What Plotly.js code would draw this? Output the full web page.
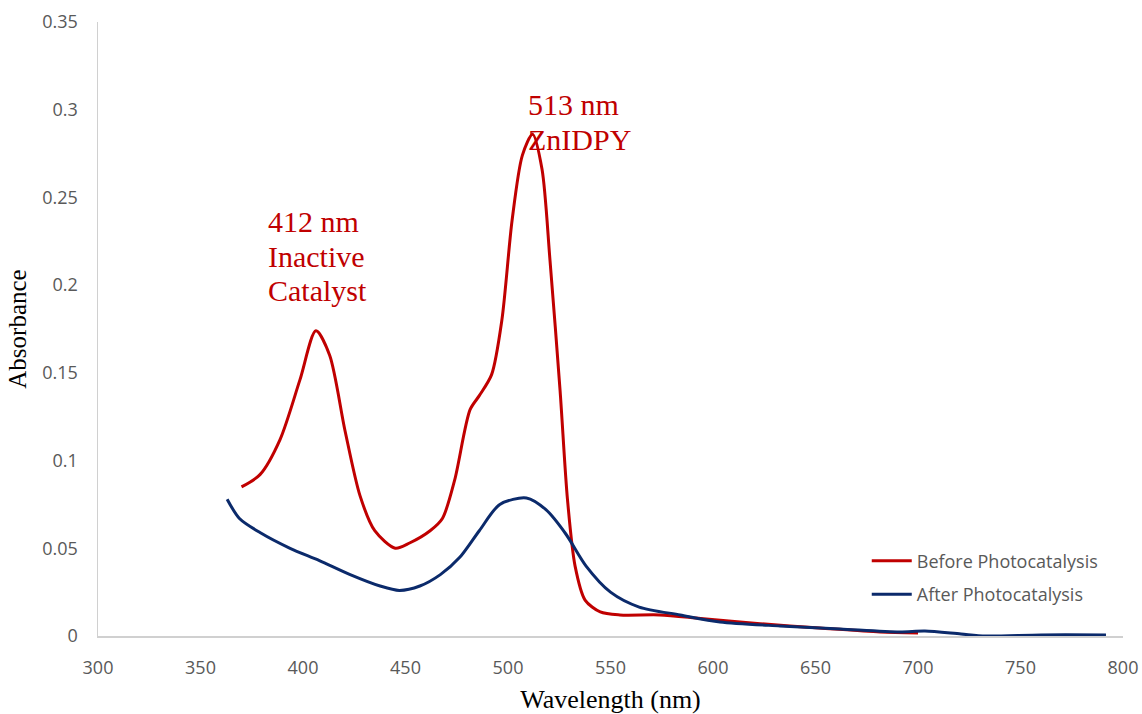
<!DOCTYPE html>
<html>
<head>
<meta charset="utf-8">
<script src="https://cdn.plot.ly/plotly-3.0.1.min.js"></script>
<style>html,body{margin:0;padding:0;background:#fff;}#chart{width:1142px;height:714px;}</style>
</head>
<body>
<div id="chart"></div>
<script>
// Before Photocatalysis (red)
const beforeWavelength = [370, 379, 388.8, 398.5, 406.3, 413, 420.5, 427.8, 435, 445, 452, 462, 468, 474, 481.5, 486, 492, 497, 502, 507, 512, 516.6, 520.5, 525.4, 529, 532.7, 537.6, 545, 554.6, 574, 594, 623, 652, 681.5, 700];
const beforeAbsorbance = [0.085, 0.092, 0.112, 0.146, 0.174, 0.160, 0.117, 0.080, 0.060, 0.050, 0.053, 0.060, 0.067, 0.089, 0.129, 0.137, 0.149, 0.180, 0.237, 0.274, 0.286, 0.266, 0.214, 0.140, 0.078, 0.040, 0.0205, 0.0137, 0.012, 0.012, 0.010, 0.007, 0.0046, 0.0023, 0.0017];
// After Photocatalysis (blue)
const afterWavelength = [363, 369, 379, 393.7, 408, 423, 437.6, 447, 457, 467, 476.6, 486, 496, 509, 518.5, 528.3, 538, 550, 564, 584, 603.4, 632.7, 662, 691, 703.4, 721, 733, 760, 791.7];
const afterAbsorbance = [0.078, 0.067, 0.059, 0.050, 0.043, 0.035, 0.0285, 0.026, 0.0285, 0.035, 0.045, 0.060, 0.075, 0.0787, 0.072, 0.058, 0.040, 0.025, 0.0165, 0.012, 0.008, 0.0057, 0.004, 0.0023, 0.0028, 0.0011, 0.0, 0.0006, 0.0006];
const seriesNames = ["Before Photocatalysis", "After Photocatalysis"];
const xTicks = [300, 350, 400, 450, 500, 550, 600, 650, 700, 750, 800];
const yTicks = [0, 0.05, 0.1, 0.15, 0.2, 0.25, 0.3, 0.35];
const yTickText = ["0", "0.05", "0.1", "0.15", "0.2", "0.25", "0.3", "0.35"];
// Peak labels: one entry per text line
const labelLines = ["412 nm", "Inactive", "Catalyst", "513 nm", "ZnIDPY"];
const labelX = [382, 382, 382, 509, 509];
const labelY = [0.236, 0.2161, 0.1967, 0.3027, 0.2828];

const traces = [
  {x: beforeWavelength, y: beforeAbsorbance, name: seriesNames[0], mode: "lines", legendgroup: "a",
   line: {color: "#c00000", width: 3, shape: "spline", smoothing: 0.8}},
  {x: afterWavelength, y: afterAbsorbance, name: seriesNames[1], mode: "lines", legendgroup: "b",
   line: {color: "#0b2a6b", width: 3, shape: "spline", smoothing: 0.8}}
];

const tickFont = {family: "Open Sans, Liberation Sans, sans-serif", size: 18, color: "#595959"};
const serif = "Liberation Serif, Times New Roman, serif";

const layout = {
  width: 1142, height: 714,
  margin: {l: 98, r: 19, t: 22, b: 78},
  paper_bgcolor: "#ffffff", plot_bgcolor: "#ffffff",
  showlegend: true,
  legend: {x: 0.750, y: 0.152, xanchor: "left", yanchor: "top",
           font: {family: "Open Sans, Liberation Sans, sans-serif", size: 18, color: "#595959"},
           bgcolor: "rgba(0,0,0,0)", tracegroupgap: 7, itemwidth: 40},
  xaxis: {range: [300, 800], tickvals: xTicks, ticktext: xTicks.map(String),
          showgrid: false, zeroline: false, showline: true, linecolor: "#d0d0d0", linewidth: 1.5,
          ticks: "", tickfont: tickFont, ticklabelstandoff: 15,
          title: {text: "Wavelength (nm)", font: {family: serif, size: 26, color: "#000"}, standoff: 13}},
  yaxis: {range: [0, 0.35], tickvals: yTicks, ticktext: yTickText,
          showgrid: false, zeroline: false, showline: true, linecolor: "#d0d0d0", linewidth: 1.5,
          ticks: "", tickfont: tickFont, ticklabelstandoff: 15,
          title: {text: "Absorbance", font: {family: serif, size: 25, color: "#000"}, standoff: 8}},
  annotations: labelLines.map((t, i) => ({
    x: labelX[i], y: labelY[i], xref: "x", yref: "y", xanchor: "left", yanchor: "middle",
    showarrow: false, text: t, font: {family: serif, size: 30, color: "#c00000"}
  }))
};

Plotly.newPlot("chart", traces, layout, {displayModeBar: false, staticPlot: true});
</script>
</body>
</html>
